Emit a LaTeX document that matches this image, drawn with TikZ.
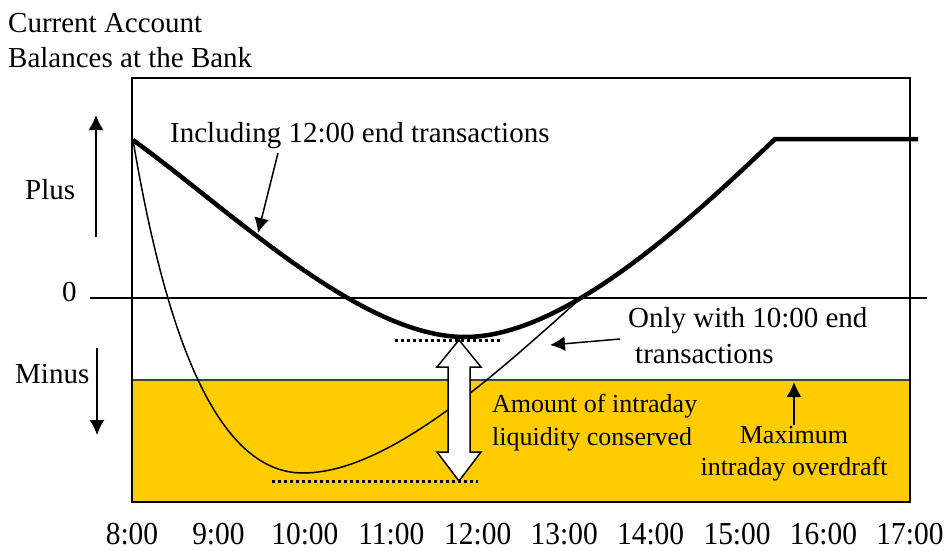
\documentclass[tikz,border=0pt]{standalone}
\usepackage{fontspec}
\setmainfont{Liberation Serif}
\usetikzlibrary{positioning,arrows.meta}
\definecolor{odyellow}{RGB}{255,204,0}

\begin{document}
\begin{tikzpicture}[x=1pt, y=-1pt, >={Latex[length=15pt,width=15pt]}, font=\fontsize{29}{35}\selectfont]
        \tikzstyle{lbl} = [inner sep=0pt, anchor=base west]
        \tikzstyle{small} = [font=\fontsize{26}{33}\selectfont]
        \tikzstyle{clbl} = [inner sep=0pt, anchor=base, small]
        \tikzstyle{tick} = [inner sep=0pt, anchor=base, text depth=0pt, font=\fontsize{32}{32}\selectfont]
        \tikzstyle{pointer} = [->, line width=1.5pt]
        \tikzstyle{dots} = [line width=3pt, dash pattern=on 3pt off 3pt]
        \useasboundingbox (0,0) rectangle (948,551);
        % overdraft band, frame and zero line
        \fill[odyellow] (132,380) rectangle (910,502);
        \draw[line width=2pt, black!75] (132,380) -- (910,380);
        \draw[line width=2pt] (132,78) rectangle (910,502);
        \draw[line width=2pt] (90,298) -- (927,298);
        % balance curves
        \draw[line width=1.5pt] (133,140) .. controls (165,330) and (215,473) .. (303,473)
            .. controls (390,473) and (500,370) .. (581,298);
        \draw[line width=4.5pt] (133,140) .. controls (230,210) and (360,337) .. (465,337)
            .. controls (565,337) and (690,220) .. (775,139) -- (918,139);
        % amount conserved
        \draw[dots] (395,340) -- (503,340);
        \draw[dots] (272,481) -- (478,481);
        \draw[line width=1.5pt, fill=white] (459,340) -- (481,367) -- (470,367) -- (470,452) -- (481,452)
            -- (459,481) -- (437,452) -- (448,452) -- (448,367) -- (437,367) -- cycle;
        % labels
        \node[lbl] (title) at (8,33) {Current Account};
        \node[lbl] (title2) at (8,68) {Balances at the Bank};
        \node[lbl] (plus) at (25,199) {Plus};
        \node[lbl] (zero) at (62,301) {0};
        \node[lbl] (minus) at (15,383) {Minus};
        \node[lbl] (incl) at (170,142) {Including 12:00 end transactions};
        \node[lbl] (only) at (628,327) {Only with 10:00 end};
        \node[lbl] (only2) at (635,363) {transactions};
        \node[lbl, small] (amount) at (492,412) {Amount of intraday};
        \node[lbl, small] (amount2) at (492,445) {liquidity conserved};
        \node[clbl] (maxod) at (794,443) {Maximum};
        \node[clbl] (maxod2) at (794,475) {intraday overdraft};
        \foreach \h [count=\i from 0] in {8,...,17}
            \node[tick] (t\h) at ({132+\i*86.44},544) {\scalebox{0.92}[1]{\h:00}};
        % pointers
        \coordinate (plusTail) at (96,237);
        \coordinate (plusTip) at (96,115);
        \coordinate (minusTail) at (97,348);
        \coordinate (minusTip) at (97,435);
        \coordinate (inclTail) at (278,153);
        \coordinate (inclTip) at (258,233);
        \coordinate (onlyTail) at (620,339);
        \coordinate (onlyTip) at (550,345);
        \coordinate (maxTail) at (794,425);
        \coordinate (maxTip) at (794,382);
        \draw[pointer] (plusTail) -- (plusTip);
        \draw[pointer] (minusTail) -- (minusTip);
        \draw[pointer] (inclTail) -- (inclTip);
        \draw[pointer] (onlyTail) -- (onlyTip);
        \draw[pointer] (maxTail) -- (maxTip);
    \end{tikzpicture}
\end{document}
